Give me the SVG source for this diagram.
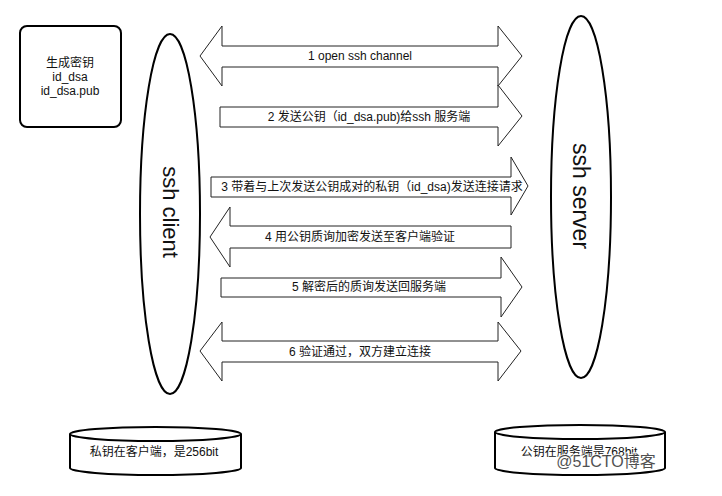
<svg xmlns="http://www.w3.org/2000/svg" width="722" height="496" viewBox="0 0 722 496">
<style>
text{font-family:"Liberation Sans","Noto Sans CJK SC",Arial,sans-serif;fill:#111;font-size:12px;text-anchor:middle;dominant-baseline:central}
.arrow{fill:#fff;stroke:#222;stroke-width:1}
.shape{fill:#fff;stroke:#000;stroke-width:2}
.wm{font-size:16px;fill:#333;stroke:#fff;stroke-width:2;paint-order:stroke;opacity:0.85}
</style>
<rect width="722" height="496" fill="#fff"/>
<g id="keygen">
<rect class="shape" x="20" y="26" width="101" height="101" rx="7"/>
<text x="70" y="63">生成密钥</text>
<text x="70" y="77">id_dsa</text>
<text x="70" y="91">id_dsa.pub</text>
</g>
<g id="client">
<ellipse class="shape" cx="170" cy="214" rx="30" ry="180"/>
<text transform="translate(170,212) rotate(90)" style="font-size:22px">ssh client</text>
</g>
<g id="server">
<ellipse class="shape" cx="581" cy="197" rx="30" ry="181"/>
<text transform="translate(581,196) rotate(90)" style="font-size:23px">ssh server</text>
</g>
<g id="connectors">
<g id="step1"><polygon class="arrow" points="200,56 222,26 222,46 498,46 498,26 522,56 498,86 498,67 222,67 222,86"/><text x="360" y="56">1 open ssh channel</text></g>
<g id="step2"><polygon class="arrow" points="220,107 498,107 498,85 522,116 498,146 498,127 220,127"/><text x="369" y="117">2 发送公钥（id_dsa.pub)给ssh 服务端</text></g>
<g id="step3"><polygon class="arrow" points="211,177 511,177 511,157 528,186 511,215 511,197 211,197"/><text x="372" y="187">3 带着与上次发送公钥成对的私钥（id_dsa)发送连接请求</text></g>
<g id="step4"><polygon class="arrow" points="210,237 230,207 230,226 511,226 511,248 230,248 230,267"/><text x="360" y="237">4 用公钥质询加密发送至客户端验证</text></g>
<g id="step5"><polygon class="arrow" points="221,278 501,278 501,257 522,287 501,317 501,297 221,297"/><text x="369" y="287">5 解密后的质询发送回服务端</text></g>
<g id="step6"><polygon class="arrow" points="200,351 222,322 222,341 498,341 498,322 521,351 498,381 498,362 222,362 222,381"/><text x="360" y="352">6 验证通过，双方建立连接</text></g>
</g>
<g id="private-key">
<path class="shape" d="M70,434 a85.5,7 0 0 1 171,0 v34 a85.5,7 0 0 1 -171,0 z M70,434 a85.5,7 0 0 0 171,0"/>
<text x="154" y="452">私钥在客户端，是256bit</text>
</g>
<g id="public-key">
<path class="shape" d="M495,432 a85,7 0 0 1 170,0 v36 a85,7 0 0 1 -170,0 z M495,432 a85,7 0 0 0 170,0"/>
<text x="579" y="452">公钥在服务端是768bit</text>
</g>
<text class="wm" x="606" y="461">@51CTO博客</text>
</svg>
